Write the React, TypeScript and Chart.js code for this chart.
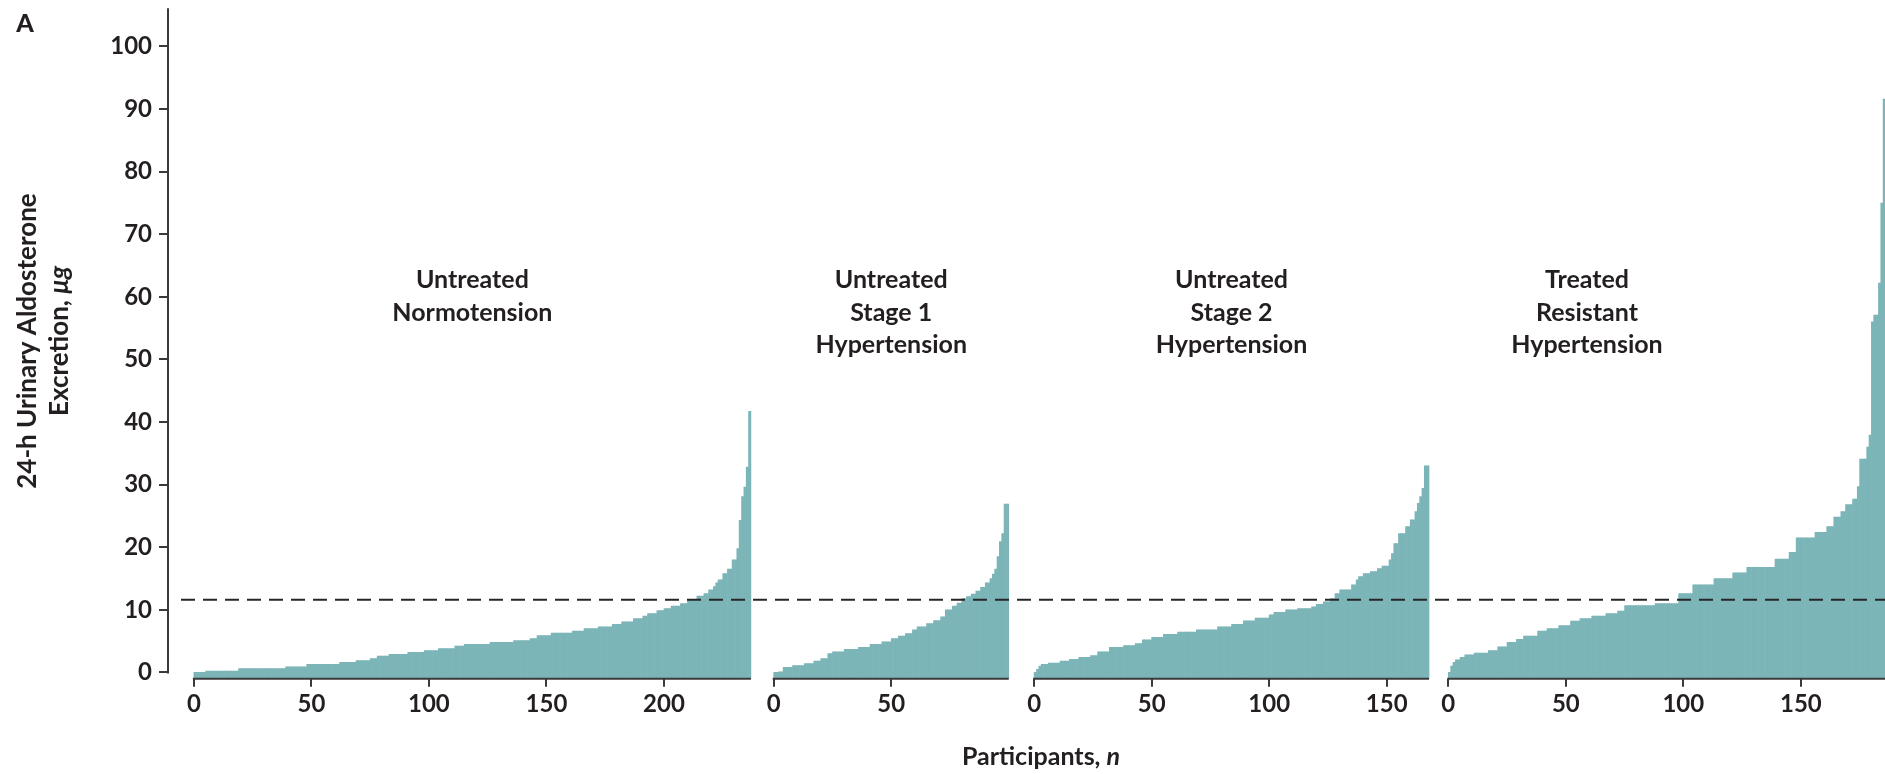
import React, { useEffect, useRef } from 'react';
import { Chart, registerables } from 'chart.js';

Chart.register(...registerables);

// ---------------- data ----------------
const PANEL_LABELS: string[][] = [
  ['Untreated', 'Normotension'],
  ['Untreated', 'Stage 1', 'Hypertension'],
  ['Untreated', 'Stage 2', 'Hypertension'],
  ['Treated', 'Resistant', 'Hypertension'],
];

// 24-h urinary aldosterone (µg), participants sorted ascending
const normotension: number[] = [
  0, 0, 0, 0, 0,
  0.2, 0.2, 0.2, 0.2, 0.2, 0.2, 0.2, 0.2, 0.2, 0.2, 0.2, 0.2, 0.2, 0.2,
  0.6, 0.6, 0.6, 0.6, 0.6, 0.6, 0.6, 0.6, 0.6, 0.6, 0.6, 0.6, 0.6, 0.6, 0.6, 0.6, 0.6, 0.6, 0.6, 0.6,
  0.9, 0.9, 0.9, 0.9, 0.9, 0.9, 0.9, 0.9, 0.9,
  1.3, 1.3, 1.3, 1.3, 1.3, 1.3, 1.3, 1.3, 1.3, 1.3, 1.3, 1.3, 1.3, 1.3,
  1.6, 1.6, 1.6, 1.6, 1.6, 1.6, 1.6,
  1.9, 1.9, 1.9, 1.9, 1.9, 1.9,
  2.2, 2.2, 2.2,
  2.6, 2.6, 2.6, 2.6, 2.6,
  2.9, 2.9, 2.9, 2.9, 2.9, 2.9, 2.9, 2.9,
  3.2, 3.2, 3.2, 3.2, 3.2, 3.2, 3.2,
  3.5, 3.5, 3.5, 3.5, 3.5, 3.5,
  3.8, 3.8, 3.8, 3.8, 3.8, 3.8, 3.8,
  4.2, 4.2, 4.2, 4.2,
  4.5, 4.5, 4.5, 4.5, 4.5, 4.5, 4.5, 4.5, 4.5, 4.5, 4.5,
  4.8, 4.8, 4.8, 4.8, 4.8, 4.8, 4.8, 4.8, 4.8, 4.8,
  5.1, 5.1, 5.1, 5.1, 5.1, 5.1, 5.1,
  5.4, 5.4, 5.4,
  5.9, 5.9, 5.9, 5.9, 5.9, 5.9,
  6.3, 6.3, 6.3, 6.3, 6.3, 6.3, 6.3, 6.3, 6.3,
  6.6, 6.6, 6.6, 6.6, 6.6,
  7.0, 7.0, 7.0, 7.0, 7.0, 7.0,
  7.3, 7.3, 7.3, 7.3, 7.3, 7.3,
  7.7, 7.7, 7.7, 7.7,
  8.1, 8.1, 8.1, 8.1, 8.1,
  8.6, 8.6, 8.6, 8.6,
  9.0, 9.0,
  9.4, 9.4, 9.4, 9.4,
  9.9, 9.9, 9.9,
  10.2, 10.2, 10.2,
  10.6, 10.6, 10.6, 10.6,
  11.0, 11.0, 11.0,
  11.6, 11.6, 11.6, 11.6,
  12.2, 12.2, 12.2,
  12.6, 12.6,
  13.2, 13.2,
  13.7, 14.3, 14.8, 14.8, 15.8, 15.8, 16.5, 16.5, 18.0, 18.0,
  19.8, 24.3, 28.1, 29.6, 32.8, 41.7,
];

const stage1: number[] = [
  0, 0,
  0.1, 0.1,
  0.8, 0.8, 0.8, 0.8,
  1.1, 1.1, 1.1, 1.1, 1.1,
  1.4, 1.4, 1.4, 1.4,
  1.8, 1.8, 1.8,
  2.2, 2.2, 2.2,
  3.0, 3.0,
  3.3, 3.3, 3.3, 3.3, 3.3,
  3.7, 3.7, 3.7, 3.7, 3.7, 3.7,
  4.0, 4.0, 4.0, 4.0, 4.0,
  4.5, 4.5, 4.5, 4.5, 4.5,
  4.9, 4.9, 4.9, 4.9,
  5.4, 5.4, 5.4,
  5.8, 5.8, 5.8,
  6.2, 6.2, 6.2,
  6.8, 6.8,
  7.3, 7.3, 7.3, 7.3,
  7.8, 7.8, 7.8,
  8.3, 8.3, 8.3,
  8.9, 8.9,
  10.0, 10.0, 10.0,
  10.6, 10.6,
  11.1, 11.1,
  11.8, 11.8,
  12.1, 12.1,
  12.5, 12.5,
  13.0, 13.0,
  13.6, 13.6,
  14.3, 14.3,
  15.0, 15.7, 16.5, 18.5, 20.9, 22.2, 26.9, 26.9,
];

const stage2: number[] = [
  0, 0.5, 1.0,
  1.3, 1.3, 1.3,
  1.5, 1.5, 1.5, 1.5, 1.5,
  1.8, 1.8, 1.8, 1.8,
  2.1, 2.1, 2.1, 2.1,
  2.4, 2.4, 2.4, 2.4, 2.4,
  2.7, 2.7, 2.7,
  3.3, 3.3, 3.3, 3.3, 3.3,
  4.0, 4.0, 4.0, 4.0, 4.0, 4.0,
  4.3, 4.3, 4.3, 4.3, 4.3,
  4.6, 4.6, 4.6,
  5.2, 5.2, 5.2, 5.2,
  5.6, 5.6, 5.6, 5.6, 5.6,
  6.1, 6.1, 6.1, 6.1, 6.1, 6.1,
  6.45, 6.45, 6.45, 6.45, 6.45, 6.45, 6.45, 6.45,
  6.8, 6.8, 6.8, 6.8, 6.8, 6.8, 6.8, 6.8, 6.8,
  7.3, 7.3, 7.3, 7.3, 7.3, 7.3,
  7.7, 7.7, 7.7, 7.7, 7.7,
  8.25, 8.25, 8.25, 8.25, 8.25,
  8.7, 8.7, 8.7, 8.7, 8.7, 8.7,
  9.2, 9.2,
  9.6, 9.6, 9.6, 9.6, 9.6,
  10.0, 10.0, 10.0, 10.0, 10.0,
  10.2, 10.2, 10.2, 10.2, 10.2, 10.2,
  10.5, 10.5,
  10.9, 10.9, 10.9,
  11.3, 11.3, 11.3,
  11.8, 11.8,
  12.6, 12.6,
  13.2, 13.2, 13.2, 13.2, 13.2,
  14.0, 14.0,
  14.8,
  15.3, 15.3,
  15.8, 15.8, 15.8,
  16.1, 16.1, 16.1,
  16.6, 16.6,
  17.0, 17.0, 17.0,
  18.0, 19.0, 20.6, 20.6,
  22.2, 22.2, 22.2,
  23.3, 23.3,
  24.4, 24.4,
  25.7, 27.0, 28.1, 29.4, 33.0, 33.0,
];

const resistant: number[] = [
  0, 1.0, 1.6,
  2.0, 2.0,
  2.4, 2.4,
  2.8, 2.8, 2.8, 2.8,
  3.1, 3.1, 3.1, 3.1, 3.1, 3.1,
  3.5, 3.5, 3.5, 3.5,
  4.1, 4.1, 4.1, 4.1,
  4.8, 4.8, 4.8, 4.8,
  5.3, 5.3, 5.3,
  5.8, 5.8, 5.8, 5.8, 5.8, 5.8,
  6.6, 6.6, 6.6, 6.6,
  7.0, 7.0, 7.0, 7.0, 7.0,
  7.5, 7.5, 7.5, 7.5, 7.5,
  8.2, 8.2, 8.2, 8.2,
  8.6, 8.6, 8.6, 8.6, 8.6,
  9.0, 9.0, 9.0, 9.0, 9.0, 9.0,
  9.4, 9.4, 9.4, 9.4, 9.4,
  9.8, 9.8, 9.8,
  10.7, 10.7, 10.7, 10.7, 10.7, 10.7, 10.7, 10.7, 10.7, 10.7, 10.7, 10.7, 10.7,
  11.0, 11.0, 11.0, 11.0, 11.0, 11.0, 11.0, 11.0, 11.0, 11.0,
  12.6, 12.6, 12.6, 12.6, 12.6, 12.6,
  14.0, 14.0, 14.0, 14.0, 14.0, 14.0, 14.0, 14.0, 14.0,
  15.0, 15.0, 15.0, 15.0, 15.0, 15.0, 15.0, 15.0,
  15.9, 15.9, 15.9, 15.9, 15.9, 15.9,
  16.8, 16.8, 16.8, 16.8, 16.8, 16.8, 16.8, 16.8, 16.8, 16.8, 16.8, 16.8,
  18.1, 18.1, 18.1, 18.1, 18.1, 18.1,
  19.2, 19.2, 19.2,
  21.5, 21.5, 21.5, 21.5, 21.5, 21.5, 21.5, 21.5,
  22.4, 22.4, 22.4, 22.4, 22.4,
  23.3, 23.3, 23.3,
  24.8, 24.8, 24.8,
  25.7, 25.7,
  26.8, 26.8, 26.8,
  27.7, 27.7,
  29.7,
  34.1, 34.1, 34.1,
  36.0, 37.9, 56.0, 57.1, 57.1, 62.2, 75.0, 91.6,
];

const PANEL_TICKS: number[][] = [
  [0, 50, 100, 150, 200],
  [0, 50],
  [0, 50, 100, 150],
  [0, 50, 100, 150],
];
const Y_TICKS: number[] = [0, 10, 20, 30, 40, 50, 60, 70, 80, 90, 100];
const THRESHOLD = 11.6;
const Y_TITLE_LINE1 = '24-h Urinary Aldosterone';
const Y_TITLE_LINE2 = 'Excretion, ';
const Y_TITLE_UNIT = 'μg';
const X_TITLE = 'Participants, ';
const X_TITLE_VAR = 'n';
const FIGURE_LETTER = 'A';

// ---------------- layout / style ----------------
const W = 1885;
const H = 774;
const PANEL_OFFSETS = [0, 246.7, 357.5, 533.7];
// horizontal centre of each panel's caption, in participant units within the panel
const LABEL_CENTERS = [118.5, 50, 84, 59];
const X_MIN = -11;
const X_MAX = 719.5;
const Y_MIN = -1;
const Y_MAX = 106.1;
const BAR = '#7cb5b8';
const INK = '#231f20';
const AXIS = '#3a3a3a';
const FONT = 'Lato, "Open Sans", sans-serif';

const PANELS = [normotension, stage1, stage2, resistant];

export default function App() {
  const ref = useRef<HTMLCanvasElement | null>(null);

  useEffect(() => {
    const canvas = ref.current;
    if (!canvas) return;

    const points = PANELS.flatMap((vals, p) =>
      vals.map((v, i) => ({ x: PANEL_OFFSETS[p] + i + 0.5, y: v }))
    );
    const xTickValues = PANEL_TICKS.flatMap((ts, p) => ts.map((t) => PANEL_OFFSETS[p] + t));
    const xTickLabels = PANEL_TICKS.flatMap((ts) => ts.map((t) => String(t)));

    const overlay = {
      id: 'overlay',
      afterDatasetsDraw(chart: any) {
        const { ctx, chartArea } = chart;
        const x = chart.scales.x;
        const y = chart.scales.y;
        ctx.save();

        // threshold dashed line
        const yT = y.getPixelForValue(THRESHOLD);
        ctx.strokeStyle = '#262626';
        ctx.lineWidth = 2;
        ctx.setLineDash([14, 8]);
        ctx.beginPath();
        ctx.moveTo(chartArea.left + 13, yT);
        ctx.lineTo(chartArea.right, yT);
        ctx.stroke();
        ctx.setLineDash([]);

        // y axis line (top to 0)
        ctx.strokeStyle = AXIS;
        ctx.lineWidth = 2;
        ctx.beginPath();
        ctx.moveTo(chartArea.left, chartArea.top);
        ctx.lineTo(chartArea.left, y.getPixelForValue(0) + 1);
        ctx.stroke();

        // x axis segments, one per panel
        const yb = chartArea.bottom;
        PANELS.forEach((vals, p) => {
          const x0 = x.getPixelForValue(PANEL_OFFSETS[p]);
          const x1 = x.getPixelForValue(PANEL_OFFSETS[p] + vals.length);
          ctx.beginPath();
          ctx.moveTo(x0 - 1, yb);
          ctx.lineTo(x1, yb);
          ctx.stroke();
        });

        // panel labels
        ctx.fillStyle = INK;
        ctx.font = `bold 25px ${FONT}`;
        ctx.textAlign = 'center';
        ctx.textBaseline = 'alphabetic';
        const baselines = [288, 320.5, 353];
        PANEL_LABELS.forEach((lines, p) => {
          const cx = x.getPixelForValue(PANEL_OFFSETS[p] + LABEL_CENTERS[p]);
          lines.forEach((t, k) => ctx.fillText(t, cx, baselines[k]));
        });

        // figure letter
        ctx.font = `900 25px ${FONT}`;
        ctx.textBaseline = 'middle';
        ctx.fillText(FIGURE_LETTER, 25, 24);

        // y title (rotated, two lines)
        const tf = `bold 26px ${FONT}`;
        const tfi = `italic bold 26px ${FONT}`;
        ctx.save();
        ctx.translate(28, 341);
        ctx.rotate(-Math.PI / 2);
        ctx.font = tf;
        ctx.textAlign = 'center';
        ctx.fillText(Y_TITLE_LINE1, 0, 0);
        ctx.restore();

        ctx.save();
        ctx.translate(60, 341);
        ctx.rotate(-Math.PI / 2);
        ctx.textAlign = 'left';
        ctx.font = tf;
        const w1 = ctx.measureText(Y_TITLE_LINE2).width;
        ctx.font = tfi;
        const w2 = ctx.measureText(Y_TITLE_UNIT).width;
        ctx.font = tf;
        ctx.fillText(Y_TITLE_LINE2, -(w1 + w2) / 2, 0);
        ctx.font = tfi;
        ctx.fillText(Y_TITLE_UNIT, -(w1 + w2) / 2 + w1, 0);
        ctx.restore();

        // x title
        ctx.textAlign = 'left';
        ctx.textBaseline = 'middle';
        ctx.font = `bold 25px ${FONT}`;
        const a = ctx.measureText(X_TITLE).width;
        ctx.font = `italic bold 25px ${FONT}`;
        const b = ctx.measureText(X_TITLE_VAR).width;
        const sx = 1041 - (a + b) / 2;
        ctx.font = `bold 25px ${FONT}`;
        ctx.fillText(X_TITLE, sx, 757);
        ctx.font = `italic bold 25px ${FONT}`;
        ctx.fillText(X_TITLE_VAR, sx + a, 757);

        ctx.restore();
      },
    };

    const chart = new Chart(canvas, {
      type: 'bar',
      data: {
        datasets: [
          {
            data: points as any,
            backgroundColor: BAR,
            borderWidth: 0,
            barPercentage: 1,
            categoryPercentage: 1,
            base: Y_MIN,
          } as any,
        ],
      },
      options: {
        responsive: false,
        maintainAspectRatio: false,
        devicePixelRatio: 1,
        animation: false,
        layout: { padding: { top: 8.3, left: 0, right: 0, bottom: 0 } },
        plugins: { legend: { display: false }, tooltip: { enabled: false } },
        scales: {
          x: {
            type: 'linear',
            min: X_MIN,
            max: X_MAX,
            bounds: 'data',
            offset: false,
            grid: {
              display: true,
              offset: false,
              drawOnChartArea: false,
              drawTicks: true,
              tickLength: 8,
              color: AXIS,
              lineWidth: 2,
            },
            border: { display: false },
            ticks: {
              autoSkip: false,
              maxRotation: 0,
              minRotation: 0,
              padding: 3,
              color: INK,
              font: { family: FONT, size: 24, weight: 'bold' },
              callback: (_v: any, i: number) => xTickLabels[i],
            },
            afterBuildTicks: (scale: any) => {
              scale.ticks = xTickValues.map((v) => ({ value: v }));
            },
            afterFit: (scale: any) => {
              scale.height = H - 678.7;
              scale.paddingLeft = 0;
              scale.paddingRight = 0;
            },
          } as any,
          y: {
            type: 'linear',
            min: Y_MIN,
            max: Y_MAX,
            grid: {
              display: true,
              drawOnChartArea: false,
              drawTicks: true,
              tickLength: 9,
              color: AXIS,
              lineWidth: 2,
            },
            border: { display: false },
            ticks: {
              padding: 7,
              color: INK,
              font: { family: FONT, size: 24, weight: 'bold' },
            },
            afterBuildTicks: (scale: any) => {
              scale.ticks = Y_TICKS.map((v) => ({ value: v }));
            },
            afterFit: (scale: any) => {
              scale.width = 168;
              scale.paddingTop = 0;
              scale.paddingBottom = 0;
            },
          } as any,
        },
      },
      plugins: [overlay],
    });

    return () => chart.destroy();
  }, []);

  return (
    <div style={{ position: 'fixed', left: 0, top: 0, width: W, height: H, background: '#fff' }}>
      <canvas ref={ref} width={W} height={H} style={{ display: 'block', width: W, height: H }} />
    </div>
  );
}
